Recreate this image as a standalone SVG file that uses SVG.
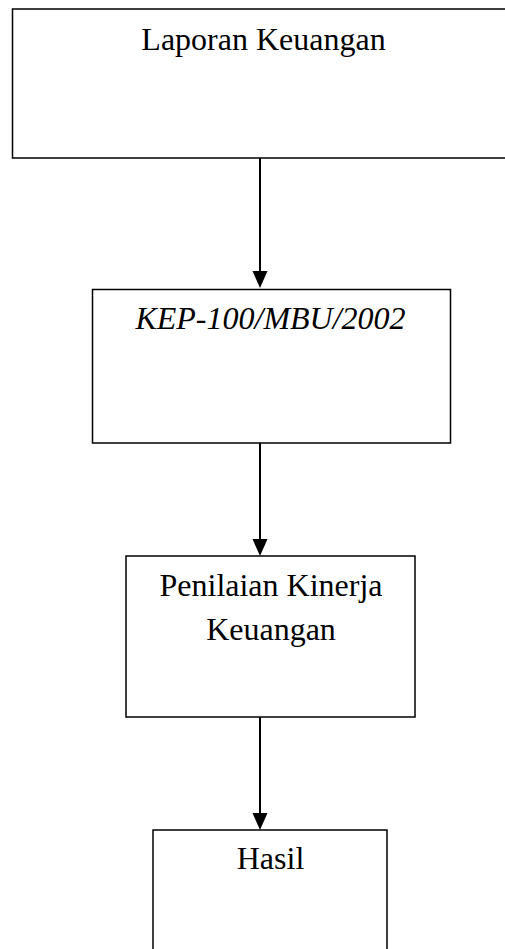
<svg xmlns="http://www.w3.org/2000/svg" width="505" height="949" viewBox="0 0 505 949">
<style>
.box{fill:#fff;stroke:#000;stroke-width:1.5}
.t{font-family:"Liberation Serif","Times New Roman",serif;font-size:32px;fill:#000;text-anchor:middle}
.i{font-style:italic}
.c{stroke:#000;stroke-width:2;fill:none}
</style>
<defs>
<marker id="ah" markerWidth="15" markerHeight="16" refX="7.5" refY="16" orient="auto-start-reverse" markerUnits="userSpaceOnUse" viewBox="0 0 15 16">
<path d="M0,0 L15,0 L7.5,16 Z" fill="#000" transform="rotate(0)"/>
</marker>
</defs>
<rect width="505" height="949" fill="#fff"/>
<g id="connectors">
<path class="c" d="M260,158 L260,272"/>
<path d="M252.5,271 L267.5,271 L260,288 Z" fill="#000"/>
<path class="c" d="M260,443 L260,540"/>
<path d="M252.5,539 L267.5,539 L260,556 Z" fill="#000"/>
<path class="c" d="M260,717 L260,814"/>
<path d="M252.5,813 L267.5,813 L260,830 Z" fill="#000"/>
</g>
<g id="node1">
<rect class="box" x="12.5" y="9" width="520" height="149"/>
<text class="t" x="263.5" y="50">Laporan Keuangan</text>
</g>
<g id="node2">
<rect class="box" x="92.5" y="289.5" width="358" height="153.5"/>
<text class="t i" x="270.5" y="329">KEP-100/MBU/2002</text>
</g>
<g id="node3">
<rect class="box" x="126" y="556" width="289" height="161"/>
<text class="t" x="271" y="596">Penilaian Kinerja</text>
<text class="t" x="271" y="640">Keuangan</text>
</g>
<g id="node4">
<rect class="box" x="153" y="830" width="234" height="140"/>
<text class="t" x="270.5" y="869">Hasil</text>
</g>
</svg>
